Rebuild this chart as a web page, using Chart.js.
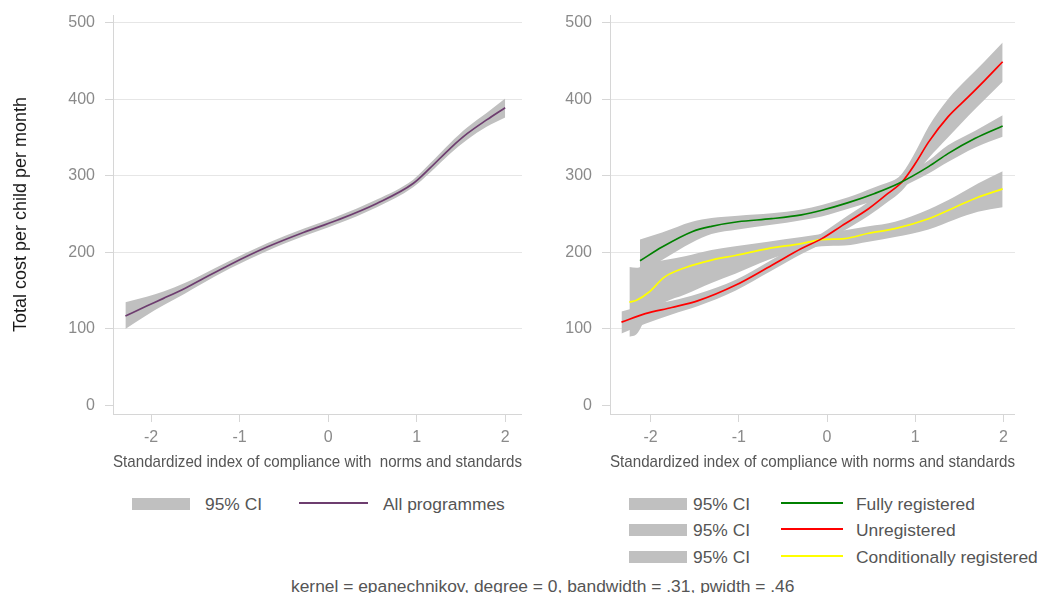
<!DOCTYPE html>
<html>
<head>
<meta charset="utf-8">
<script src="https://cdn.jsdelivr.net/npm/chart.js@4.4.0/dist/chart.umd.min.js"></script>
<style>
  html, body { margin: 0; padding: 0; background: #fff; width: 1042px; height: 593px; overflow: hidden;
    font-family: "Liberation Sans", Arial, Helvetica, sans-serif; }
  canvas { position: absolute; top: 0; }
  #leftChart { left: 0; }
  #rightChart { left: 528px; }
  .txt { position: absolute; color: #555; font-size: 17.4px; line-height: 20px; white-space: pre; }
  .sw { position: absolute; width: 58px; height: 12px; background: #c0c0c0; }
  .ln { position: absolute; height: 2px; }
</style>
</head>
<body>
<canvas id="leftChart" width="522" height="472"></canvas>
<canvas id="rightChart" width="487" height="472"></canvas>

<!-- legend, left panel -->
<div class="sw" style="left:132px;top:498px;"></div>
<div class="txt" style="left:205px;top:493.5px;">95% CI</div>
<div class="ln" style="left:299px;top:502px;width:69px;background:#6d3d6f;"></div>
<div class="txt" style="left:383px;top:493.5px;">All programmes</div>

<!-- legend, right panel -->
<div class="sw" style="left:629px;top:498px;"></div>
<div class="txt" style="left:693px;top:493.5px;">95% CI</div>
<div class="ln" style="left:781px;top:502px;width:62px;background:#008000;"></div>
<div class="txt" style="left:856px;top:493.5px;">Fully registered</div>

<div class="sw" style="left:629px;top:524px;"></div>
<div class="txt" style="left:693px;top:520.2px;">95% CI</div>
<div class="ln" style="left:781px;top:528px;width:62px;background:#ff0000;"></div>
<div class="txt" style="left:856px;top:520.2px;">Unregistered</div>

<div class="sw" style="left:629px;top:551px;"></div>
<div class="txt" style="left:693px;top:546.9px;">95% CI</div>
<div class="ln" style="left:781px;top:555px;width:62px;background:#ffff00;"></div>
<div class="txt" style="left:856px;top:546.9px;">Conditionally registered</div>

<div class="txt" style="left:291px;top:575.7px;">kernel = epanechnikov, degree = 0, bandwidth = .31, pwidth = .46</div>

<script>
// Axis ticks
const xTickValues = [-2, -1, 0, 1, 2];
const xTickLabels = ['-2', '-1', '0', '1', '2'];
const yTickValues = [0, 100, 200, 300, 400, 500];
const yTickLabels = ['0', '100', '200', '300', '400', '500'];

// All programmes: local polynomial fit with 95% CI
const allX   = [-2.29, -2.05, -1.86, -1.62, -1.44, -1.11, -0.69, -0.28, 0.10, 0.55, 0.96, 1.15, 1.38, 1.57, 1.79, 2.00];
const allFit = [117, 130, 140, 153, 164, 184, 207, 226, 242, 264, 290, 310, 336, 355, 373, 389];
const allLo  = [100, 118, 131, 146, 158, 179, 202, 221, 237, 259, 285, 304, 329, 347, 364, 376];
const allHi  = [135, 142, 149, 160, 170, 189, 212, 231, 247, 269, 295, 316, 343, 363, 382, 401];

// Fully registered
const fullX   = [-2.12, -1.87, -1.53, -1.31, -1.01, -0.63, -0.29, -0.06, 0.24, 0.54, 0.81, 1.15, 1.37, 1.68, 1.99];
const fullFit = [189, 207, 227, 234, 240, 244, 249, 255, 265, 277, 290, 312, 329, 349, 365];
const fullLo  = [172, 190, 213, 224, 230, 236, 242, 247, 257, 268, 283, 303, 318, 337, 351];
const fullHi  = [217, 226, 240, 245, 248, 251, 256, 262, 272, 285, 297, 320, 340, 359, 379];

// Unregistered
const unregX   = [-2.33, -2.06, -1.76, -1.46, -1.04, -0.63, -0.29, -0.06, 0.17, 0.47, 0.69, 0.85, 1.00, 1.15, 1.37, 1.60, 1.79, 1.99];
const unregFit = [109, 120, 128, 137, 157, 183, 205, 218, 235, 257, 277, 292, 316, 344, 377, 403, 425, 449];
const unregLo  = [94, 107, 119, 130, 150, 176, 198, 211, 227, 248, 266, 281, 302, 323, 350, 378, 400, 423];
const unregHi  = [123, 131, 137, 146, 164, 190, 212, 225, 243, 266, 288, 303, 331, 364, 400, 428, 450, 474];

// Conditionally registered
const condX   = [-2.24, -2.16, -2.02, -1.84, -1.61, -1.31, -1.04, -0.67, -0.29, -0.06, 0.20, 0.47, 0.77, 1.15, 1.45, 1.71, 1.99];
const condFit = [135, 137.5, 148, 168, 180, 190, 196, 205, 211.5, 216.7, 218, 225, 231, 244, 259, 272, 283];
const condLo  = [90, 93, 122, 135, 145, 160, 172, 190, 203, 208, 209, 214, 220, 230, 243, 253, 259];
const condHi  = [181, 180, 186, 190, 195, 203, 208, 214, 220, 224, 229, 234, 240, 256, 273, 290, 306];

const BAND = '#c0c0c0';
const FONT = '"Liberation Sans", Arial, Helvetica, sans-serif';
Chart.defaults.font.family = FONT;

const pts = (xs, ys) => xs.map((x, i) => ({ x: x, y: ys[i] }));

function fitLine(label, xs, ys, color) {
  return { label: label, data: pts(xs, ys), borderColor: color, borderWidth: 1.7,
    pointRadius: 0, fill: false, cubicInterpolationMode: 'monotone' };
}
function bandPair(xs, lo, hi) {
  return [
    { label: '95% CI', data: pts(xs, hi), borderWidth: 0, borderColor: BAND, backgroundColor: BAND,
      pointRadius: 0, fill: '+1', cubicInterpolationMode: 'monotone' },
    { label: '95% CI', data: pts(xs, lo), borderWidth: 0, borderColor: BAND, backgroundColor: BAND,
      pointRadius: 0, fill: false, cubicInterpolationMode: 'monotone' }
  ];
}

function scales(xmin, xmax, yWidth, yTitle, xTitle) {
  return {
    x: {
      type: 'linear', min: xmin, max: xmax,
      afterBuildTicks: s => { s.ticks = xTickValues.map(v => ({ value: v })); },
      afterFit: s => { s.height = 58; },
      grid: { drawOnChartArea: false, drawTicks: true, tickLength: 8, tickColor: '#d6d6d6' },
      border: { display: true, color: '#d6d6d6', width: 1 },
      ticks: { color: '#8a8a8a', font: { size: 16 }, padding: 6, maxRotation: 0, autoSkip: false,
        callback: v => xTickLabels[xTickValues.indexOf(v)] },
      title: { display: true, text: xTitle, color: '#555', font: { size: 16.1 }, padding: { top: 0, bottom: 0 } }
    },
    y: {
      type: 'linear', min: -11, max: 510,
      afterBuildTicks: s => { s.ticks = yTickValues.map(v => ({ value: v })); },
      afterFit: s => { s.width = yWidth; },
      grid: { color: c => (c.tick && c.tick.value === 0) ? 'rgba(0,0,0,0)' : '#e6e6e6',
        tickLength: 8, tickColor: '#d6d6d6' },
      border: { display: true, color: '#d6d6d6', width: 1 },
      // single-line labels: a small line height keeps the top label from padding the plot area
      ticks: { color: '#8a8a8a', font: { size: 16, lineHeight: 0.5 }, padding: 10,
        callback: v => yTickLabels[yTickValues.indexOf(v)] },
      title: { display: !!yTitle, text: yTitle || '', color: '#1a1a1a', font: { size: 18 }, padding: { top: 10 } }
    }
  };
}

const common = {
  responsive: false, animation: false, devicePixelRatio: 1,
  layout: { padding: { top: 15, right: 0, bottom: 0, left: 0 } },
  plugins: { legend: { display: false }, tooltip: { enabled: false } },
  elements: { line: { borderCapStyle: 'butt' } }
};

new Chart(document.getElementById('leftChart'), {
  type: 'line',
  data: { datasets: [
    fitLine('All programmes', allX, allFit, '#6d3d6f'),
    ...bandPair(allX, allLo, allHi)
  ] },
  options: Object.assign({}, common, {
    scales: scales(-2.43, 2.19, 113, 'Total cost per child per month',
      'Standardized index of compliance with  norms and standards')
  })
});

new Chart(document.getElementById('rightChart'), {
  type: 'line',
  data: { datasets: [
    fitLine('Fully registered', fullX, fullFit, '#008000'),
    fitLine('Unregistered', unregX, unregFit, '#ff0000'),
    fitLine('Conditionally registered', condX, condFit, '#ffff00'),
    ...bandPair(fullX, fullLo, fullHi),
    ...bandPair(unregX, unregLo, unregHi),
    ...bandPair(condX, condLo, condHi)
  ] },
  options: Object.assign({}, common, {
    scales: scales(-2.46, 2.13, 82, null,
      'Standardized index of compliance with norms and standards')
  })
});
</script>
</body>
</html>
